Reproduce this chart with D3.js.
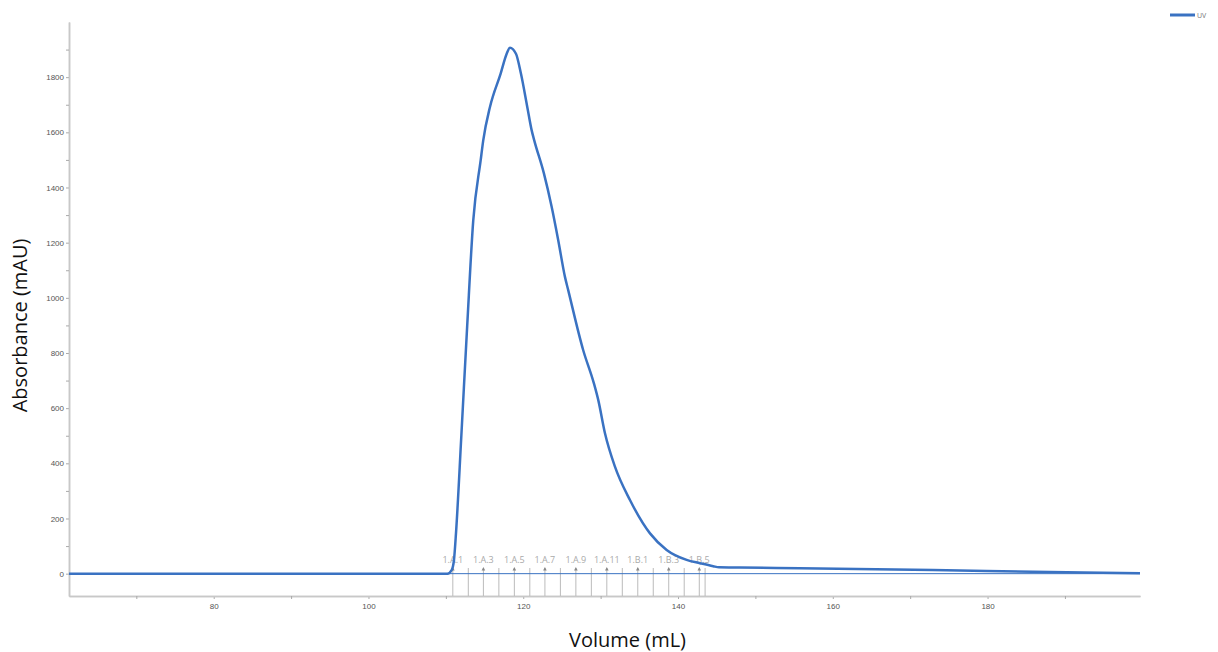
<!DOCTYPE html>
<html>
<head>
<meta charset="utf-8">
<script src="https://cdn.jsdelivr.net/npm/d3@7"></script>
<style>
  body { margin: 0; background: #fff; }
  svg { font-family: "Open Sans", "DejaVu Sans", sans-serif; }
</style>
</head>
<body>
<div id="chart-area"></div>
<script>
const WIDTH = 1218;
const HEIGHT = 652;

// UV trace (mL, mAU)
const volume = [61.3, 110.2, 110.75, 111.05, 111.31, 112.0, 112.76, 113.54, 114.5, 114.83, 115.7,
  117.08, 117.86, 118.28, 119.06, 119.7, 120.52, 121.09, 121.42, 122.67, 123.67, 124.52, 125.39,
  125.81, 127.75, 129.13, 129.69, 130.56, 131.85, 133.79, 136.38, 138.53, 141.11, 142.83, 144.55,
  145.3, 148.0, 155.75, 172.93, 185.85, 199.7];
const absorbance = [0, 0, 13, 50, 147, 500, 900, 1281, 1499, 1571, 1692,
  1813, 1885, 1907, 1885, 1813, 1692, 1607, 1571, 1451, 1330, 1209, 1076,
  1028, 810, 690, 630, 509, 388, 267, 146, 86, 50, 38, 27,
  23, 22, 19.6, 13.4, 7.2, 1.5];

// fraction boundaries (mL) and names
const fractionStarts = [110.9, 112.9, 114.85, 116.85, 118.85, 120.85, 122.8, 124.8, 126.8, 128.8,
  130.8, 132.8, 134.8, 136.8, 138.8, 140.8, 142.75, 143.5];
const fractionNames = ["1.A.1", "1.A.2", "1.A.3", "1.A.4", "1.A.5", "1.A.6", "1.A.7", "1.A.8", "1.A.9",
  "1.A.10", "1.A.11", "1.A.12", "1.B.1", "1.B.2", "1.B.3", "1.B.4", "1.B.5"];

const xTicks = [80, 100, 120, 140, 160, 180];
const xMinorTicks = [70, 90, 110, 130, 150, 170, 190];
const yTicks = [0, 200, 400, 600, 800, 1000, 1200, 1400, 1600, 1800];
const yMinorTicks = [100, 300, 500, 700, 900, 1100, 1300, 1500, 1700, 1900];

const blue = "#3a72c2";

const svg = d3.select("#chart-area").append("svg")
  .attr("width", WIDTH)
  .attr("height", HEIGHT);

const margin = {top: 22, right: 78, bottom: 56, left: 69};
const graphWidth = WIDTH - margin.left - margin.right;
const graphHeight = HEIGHT - margin.top - margin.bottom;

const graph = svg.append("g")
  .attr("transform", `translate(${margin.left}, ${margin.top})`);

// scales
const x = d3.scaleLinear().domain([61.3, 199.7]).range([0, graphWidth]);
const y = d3.scaleLinear().domain([-81, 2000]).range([graphHeight, 0]);

// axes
const xAxisGroup = graph.append("g")
  .attr("transform", `translate(0, ${graphHeight})`)
  .call(d3.axisBottom(x).tickValues(xTicks).tickSize(3).tickSizeOuter(0).tickPadding(4).tickFormat(d3.format("d")));

const xMinor = graph.append("g")
  .attr("transform", `translate(0, ${graphHeight})`)
  .call(d3.axisBottom(x).tickValues(xMinorTicks).tickSize(3).tickSizeOuter(0).tickFormat(""));

const yAxisGroup = graph.append("g")
  .call(d3.axisLeft(y).tickValues(yTicks).tickSize(3).tickSizeOuter(0).tickPadding(2).tickFormat(d3.format("d")));

const yMinor = graph.append("g")
  .call(d3.axisLeft(y).tickValues(yMinorTicks).tickSize(3).tickSizeOuter(0).tickFormat(""));

[xAxisGroup, xMinor, yAxisGroup, yMinor].forEach(g => {
  g.select(".domain").attr("stroke", "#c8c8c8").attr("stroke-width", 1.5);
  g.selectAll(".tick line").attr("stroke", "#aaa");
  g.selectAll(".tick text").attr("fill", "#555").attr("font-size", "8px");
});

// axis labels
graph.append("text")
  .attr("x", graphWidth / 2 + 23)
  .attr("y", graphHeight + 51)
  .attr("font-size", "20px")
  .attr("fill", "#111")
  .attr("text-anchor", "middle")
  .text("Volume (mL)");

graph.append("text")
  .attr("x", -(y(900)))
  .attr("y", -42)
  .attr("font-size", "20px")
  .attr("fill", "#111")
  .attr("text-anchor", "middle")
  .attr("transform", "rotate(-90)")
  .text("Absorbance (mAU)");

// fraction marks
const fracTop = graphHeight - 28;
graph.selectAll(".frac-line").data(fractionStarts).enter().append("line")
  .attr("class", "frac-line")
  .attr("x1", d => x(d)).attr("x2", d => x(d))
  .attr("y1", fracTop).attr("y2", graphHeight)
  .attr("stroke", "#bbb")
  .attr("stroke-width", 1);

const labelled = fractionNames
  .map((name, i) => ({name, v: fractionStarts[i]}))
  .filter(d => /\.(1|3|5|7|9|11)$/.test(d.name));

graph.selectAll(".frac-arrow").data(labelled).enter().append("path")
  .attr("class", "frac-arrow")
  .attr("d", d => `M${x(d.v) - 1.8},${fracTop + 2.5} L${x(d.v)},${fracTop - 1} L${x(d.v) + 1.8},${fracTop + 2.5} Z`)
  .attr("fill", "#888");

graph.selectAll(".frac-label").data(labelled).enter().append("text")
  .attr("class", "frac-label")
  .attr("x", d => x(d.v))
  .attr("y", fracTop - 5)
  .attr("font-size", "9px")
  .attr("fill", "#aaa")
  .attr("text-anchor", "middle")
  .text(d => d.name);

// zero baseline
graph.append("line")
  .attr("x1", x(61.3)).attr("x2", x(199.7))
  .attr("y1", y(0)).attr("y2", y(0))
  .attr("stroke", blue)
  .attr("stroke-width", 1);

// UV curve
const points = volume.map((v, i) => [v, absorbance[i]]);
const line = d3.line()
  .x(d => x(d[0]))
  .y(d => y(d[1]))
  .curve(d3.curveMonotoneX);

graph.append("path")
  .datum(points)
  .attr("d", line)
  .attr("fill", "none")
  .attr("stroke", blue)
  .attr("stroke-width", 2.5)
  .attr("stroke-linejoin", "round");

// legend
const legend = svg.append("g").attr("transform", "translate(1170, 15)");
legend.append("line")
  .attr("x1", 0).attr("x2", 25)
  .attr("stroke", blue).attr("stroke-width", 3);
legend.append("text")
  .attr("x", 27).attr("y", 2.5)
  .attr("font-size", "7px")
  .attr("fill", "#777")
  .text("UV");
</script>
</body>
</html>
